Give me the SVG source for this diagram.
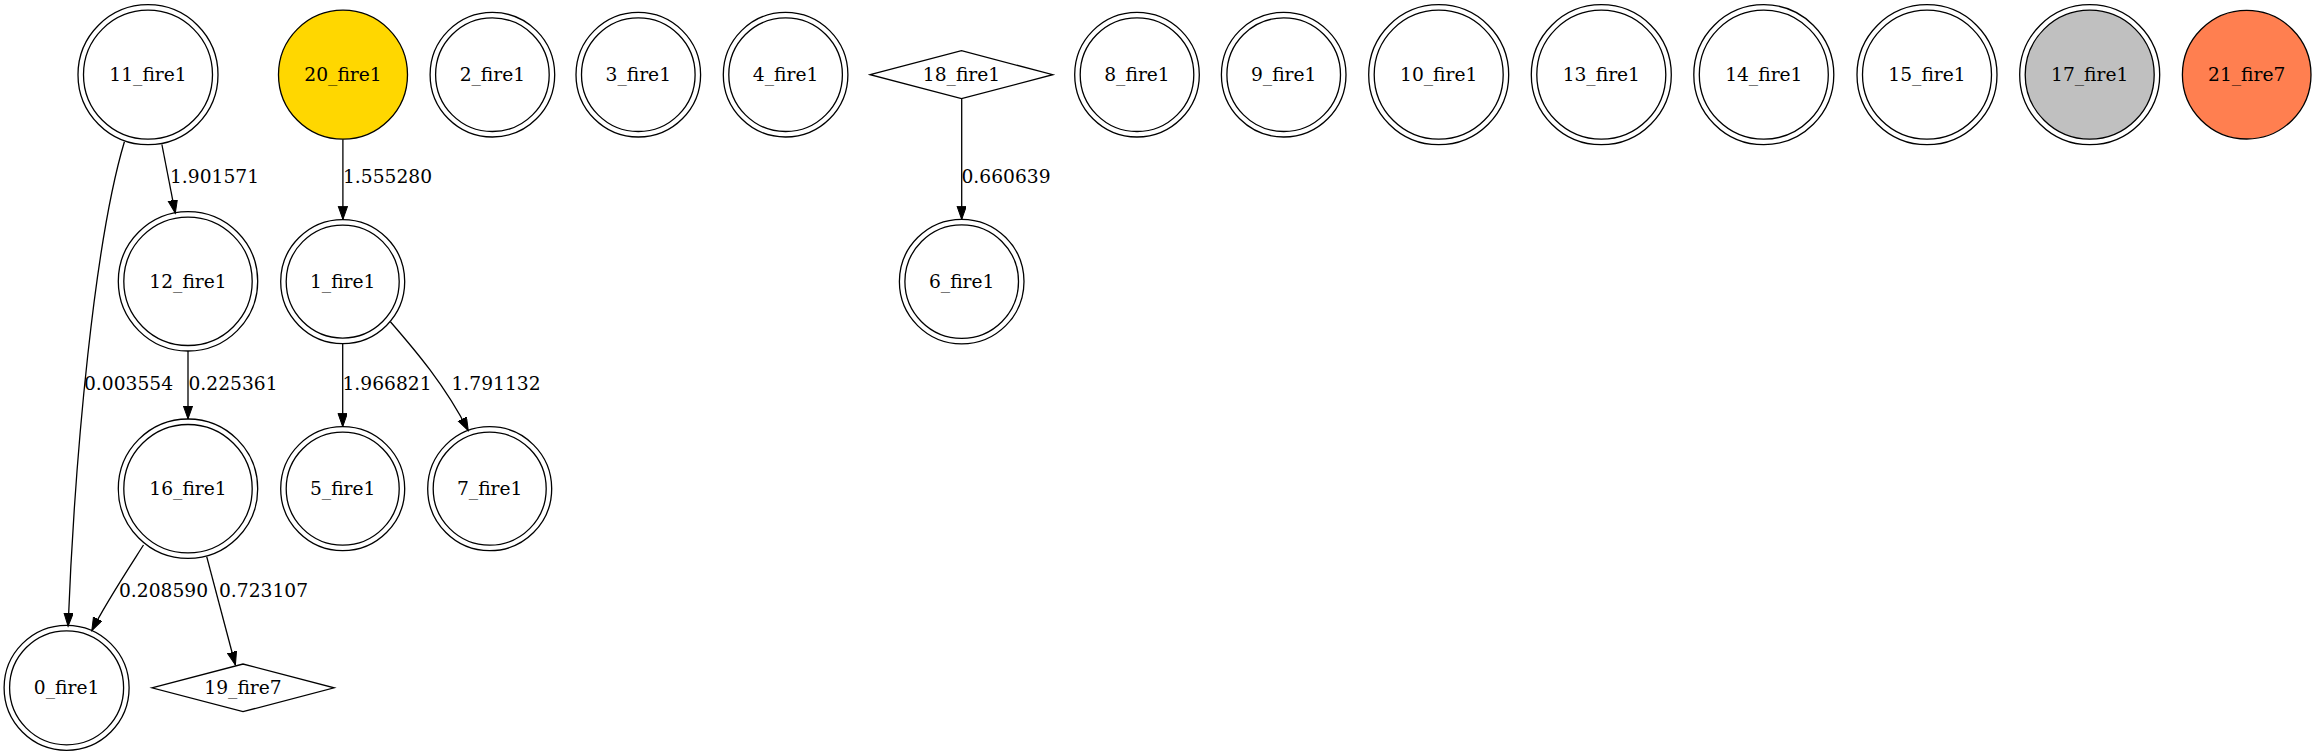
<svg xmlns="http://www.w3.org/2000/svg" width="2316" height="755" viewBox="0 0 2316 755">
<style>
  .o{fill:none;stroke:#000;stroke-width:1.3}
  .i{fill:#fff;stroke:#000;stroke-width:1.3}
  text{font-family:"DejaVu Serif","Liberation Serif",serif;font-size:18.67px;fill:#000}
  .c{text-anchor:middle}
  .e{fill:none;stroke:#000;stroke-width:1.3}
</style>
<defs>
  <marker id="ah" markerUnits="userSpaceOnUse" markerWidth="16" markerHeight="12" refX="13.3" refY="4.7" orient="auto" viewBox="0 0 16 12">
    <path d="M0,0 L13.3,4.7 L0,9.4 Z" fill="#000" stroke="#000" stroke-width="1"/>
  </marker>
</defs>
<rect width="2316" height="755" fill="#fff"/>
<g id="connectors">
  <path class="e" d="M161.9,144.5 L175.3,213.3" marker-end="url(#ah)"/>
  <text x="170" y="182.5">1.901571</text>
  <path class="e" d="M124.4,141.7 C95,240 75,450 68.1,626.2" marker-end="url(#ah)"/>
  <text x="84" y="390">0.003554</text>
  <path class="e" d="M342.9,139.3 L342.9,219.5" marker-end="url(#ah)"/>
  <text x="343" y="182.5">1.555280</text>
  <path class="e" d="M961.7,98.7 L961.7,219.5" marker-end="url(#ah)"/>
  <text x="961.5" y="182.5">0.660639</text>
  <path class="e" d="M188,351 L188,419" marker-end="url(#ah)"/>
  <text x="188.5" y="390">0.225361</text>
  <path class="e" d="M342.7,343.6 L342.7,426.7" marker-end="url(#ah)"/>
  <text x="342.5" y="390">1.966821</text>
  <path class="e" d="M390.4,321.7 C415,350 445,385 468.3,430.7" marker-end="url(#ah)"/>
  <text x="451.5" y="390">1.791132</text>
  <path class="e" d="M143.5,545 C125,574 104,606 91.8,630.7" marker-end="url(#ah)"/>
  <text x="119" y="596.7">0.208590</text>
  <path class="e" d="M206.7,556.7 L235.4,665" marker-end="url(#ah)"/>
  <text x="219" y="596.7">0.723107</text>
</g>
<g id="n11"><circle class="o" cx="148" cy="74.7" r="70"/><circle class="i" cx="148" cy="74.7" r="64.5"/><text class="c" x="148" y="81">11_fire1</text></g>
<g id="n20"><circle cx="343" cy="74.7" r="64.5" fill="#ffd700" stroke="#000" stroke-width="1.3"/><text class="c" x="343" y="81">20_fire1</text></g>
<g id="n2"><circle class="o" cx="492.4" cy="74.7" r="62.3"/><circle class="i" cx="492.4" cy="74.7" r="56.8"/><text class="c" x="492.4" y="81">2_fire1</text></g>
<g id="n3"><circle class="o" cx="638.3" cy="74.7" r="62.3"/><circle class="i" cx="638.3" cy="74.7" r="56.8"/><text class="c" x="638.3" y="81">3_fire1</text></g>
<g id="n4"><circle class="o" cx="785.6" cy="74.7" r="62.3"/><circle class="i" cx="785.6" cy="74.7" r="56.8"/><text class="c" x="785.6" y="81">4_fire1</text></g>
<g id="n18"><polygon class="i" points="870.2,74.7 961.5,50.7 1052.8,74.7 961.5,98.7"/><text class="c" x="961.5" y="81">18_fire1</text></g>
<g id="n8"><circle class="o" cx="1137" cy="74.7" r="62.3"/><circle class="i" cx="1137" cy="74.7" r="56.8"/><text class="c" x="1137" y="81">8_fire1</text></g>
<g id="n9"><circle class="o" cx="1283.7" cy="74.7" r="62.3"/><circle class="i" cx="1283.7" cy="74.7" r="56.8"/><text class="c" x="1283.7" y="81">9_fire1</text></g>
<g id="n10"><circle class="o" cx="1438.7" cy="74.7" r="70"/><circle class="i" cx="1438.7" cy="74.7" r="64.5"/><text class="c" x="1438.7" y="81">10_fire1</text></g>
<g id="n13"><circle class="o" cx="1601.3" cy="74.7" r="70"/><circle class="i" cx="1601.3" cy="74.7" r="64.5"/><text class="c" x="1601.3" y="81">13_fire1</text></g>
<g id="n14"><circle class="o" cx="1763.8" cy="74.7" r="70"/><circle class="i" cx="1763.8" cy="74.7" r="64.5"/><text class="c" x="1763.8" y="81">14_fire1</text></g>
<g id="n15"><circle class="o" cx="1927" cy="74.7" r="70"/><circle class="i" cx="1927" cy="74.7" r="64.5"/><text class="c" x="1927" y="81">15_fire1</text></g>
<g id="n17"><circle class="o" cx="2089.7" cy="74.7" r="70"/><circle cx="2089.7" cy="74.7" r="64.5" fill="#c0c0c0" stroke="#000" stroke-width="1.3"/><text class="c" x="2089.7" y="81">17_fire1</text></g>
<g id="n21"><circle cx="2246.7" cy="74.7" r="64.3" fill="#ff7f50" stroke="#000" stroke-width="1.3"/><text class="c" x="2246.7" y="81">21_fire7</text></g>
<g id="n12"><circle class="o" cx="188" cy="281.3" r="69.7"/><circle class="i" cx="188" cy="281.3" r="64.2"/><text class="c" x="188" y="287.6">12_fire1</text></g>
<g id="n1"><circle class="o" cx="342.7" cy="281.6" r="62"/><circle class="i" cx="342.7" cy="281.6" r="56.5"/><text class="c" x="342.7" y="287.9">1_fire1</text></g>
<g id="n6"><circle class="o" cx="961.7" cy="281.6" r="62.3"/><circle class="i" cx="961.7" cy="281.6" r="56.8"/><text class="c" x="961.7" y="287.9">6_fire1</text></g>
<g id="n16"><circle class="o" cx="188" cy="488.7" r="69.7"/><circle class="i" cx="188" cy="488.7" r="64.2"/><text class="c" x="188" y="495">16_fire1</text></g>
<g id="n5"><circle class="o" cx="342.7" cy="488.7" r="62"/><circle class="i" cx="342.7" cy="488.7" r="56.5"/><text class="c" x="342.7" y="495">5_fire1</text></g>
<g id="n7"><circle class="o" cx="489.7" cy="488.7" r="62"/><circle class="i" cx="489.7" cy="488.7" r="56.5"/><text class="c" x="489.7" y="495">7_fire1</text></g>
<g id="n0"><circle class="o" cx="66.6" cy="687.8" r="62.5"/><circle class="i" cx="66.6" cy="687.8" r="57"/><text class="c" x="66.6" y="694.1">0_fire1</text></g>
<g id="n19"><polygon class="i" points="151.9,687.8 243,664 334.1,687.8 243,711.7"/><text class="c" x="243" y="694.1">19_fire7</text></g>
</svg>
